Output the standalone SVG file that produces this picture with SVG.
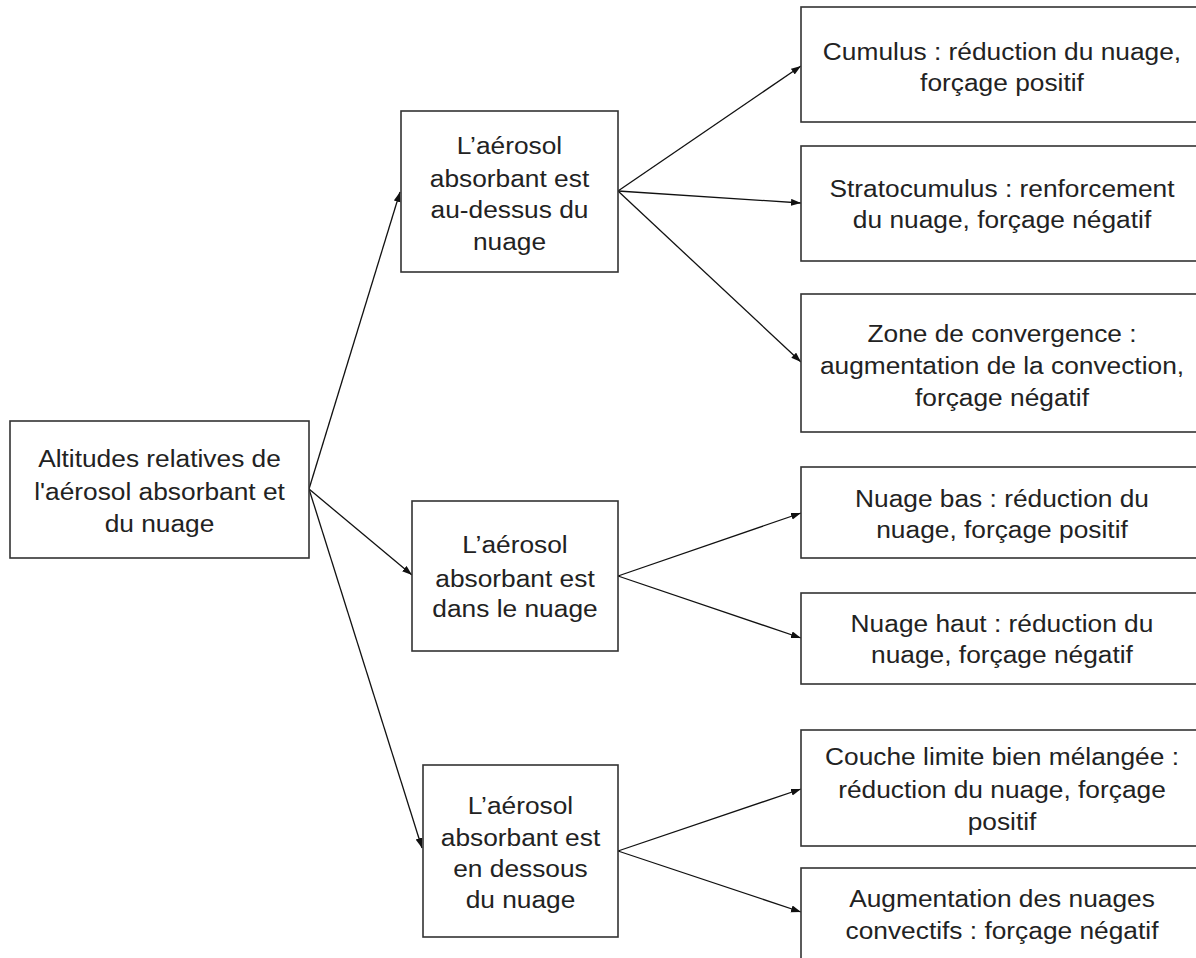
<svg xmlns="http://www.w3.org/2000/svg" width="1196" height="958" viewBox="0 0 1196 958">
<style>
.box{fill:#fff;stroke:#333;stroke-width:1.6}
.t{font-family:"Liberation Sans",Arial,sans-serif;font-size:23.5px;fill:#222;text-anchor:middle}
.c{stroke:#111;stroke-width:1.3;fill:none;marker-end:url(#ah)}
</style>
<defs>
<marker id="ah" markerUnits="userSpaceOnUse" markerWidth="11" markerHeight="8" refX="10" refY="3.5" orient="auto">
<path d="M0,0 L10,3.5 L0,7 z" fill="#111"/>
</marker>
</defs>
<rect width="1196" height="958" fill="#fff"/>
<g id="connectors">
<line class="c" x1="309" y1="489" x2="400" y2="192"/>
<line class="c" x1="309" y1="489" x2="412" y2="575"/>
<line class="c" x1="309" y1="489" x2="422" y2="848"/>
<line class="c" x1="618" y1="191" x2="801" y2="66"/>
<line class="c" x1="618" y1="191" x2="801" y2="203"/>
<line class="c" x1="618" y1="191" x2="801" y2="362"/>
<line class="c" x1="618" y1="576" x2="801" y2="513"/>
<line class="c" x1="618" y1="576" x2="801" y2="638"/>
<line class="c" x1="618" y1="851" x2="801" y2="789"/>
<line class="c" x1="618" y1="851" x2="801" y2="912"/>
</g>
<g id="root">
<rect class="box" x="10" y="421" width="299" height="137"/>
<text class="t" transform="translate(159.5 0) scale(1.12 1)"><tspan x="0" y="467">Altitudes relatives de</tspan><tspan x="0" y="500">l'aérosol absorbant et</tspan><tspan x="0" y="532">du nuage</tspan></text>
</g>
<g id="mid1">
<rect class="box" x="401" y="111" width="217" height="161"/>
<text class="t" transform="translate(509.5 0) scale(1.12 1)"><tspan x="0" y="154">L’aérosol</tspan><tspan x="0" y="187">absorbant est</tspan><tspan x="0" y="218">au-dessus du</tspan><tspan x="0" y="250">nuage</tspan></text>
</g>
<g id="mid2">
<rect class="box" x="412" y="501" width="206" height="150"/>
<text class="t" transform="translate(515 0) scale(1.12 1)"><tspan x="0" y="553">L’aérosol</tspan><tspan x="0" y="587">absorbant est</tspan><tspan x="0" y="617">dans le nuage</tspan></text>
</g>
<g id="mid3">
<rect class="box" x="423" y="765" width="195" height="172"/>
<text class="t" transform="translate(520.5 0) scale(1.12 1)"><tspan x="0" y="814">L’aérosol</tspan><tspan x="0" y="846">absorbant est</tspan><tspan x="0" y="877">en dessous</tspan><tspan x="0" y="908">du nuage</tspan></text>
</g>
<g id="r1">
<rect class="box" x="801" y="7" width="402" height="115"/>
<text class="t" transform="translate(1002 0) scale(1.12 1)"><tspan x="0" y="60">Cumulus : réduction du nuage,</tspan><tspan x="0" y="91">forçage positif</tspan></text>
</g>
<g id="r2">
<rect class="box" x="801" y="146" width="402" height="115"/>
<text class="t" transform="translate(1002 0) scale(1.12 1)"><tspan x="0" y="197">Stratocumulus : renforcement</tspan><tspan x="0" y="228">du nuage, forçage négatif</tspan></text>
</g>
<g id="r3">
<rect class="box" x="801" y="294" width="402" height="138"/>
<text class="t" transform="translate(1002 0) scale(1.12 1)"><tspan x="0" y="342">Zone de convergence :</tspan><tspan x="0" y="374">augmentation de la convection,</tspan><tspan x="0" y="406">forçage négatif</tspan></text>
</g>
<g id="r4">
<rect class="box" x="801" y="467" width="402" height="91"/>
<text class="t" transform="translate(1002 0) scale(1.12 1)"><tspan x="0" y="507">Nuage bas : réduction du</tspan><tspan x="0" y="538">nuage, forçage positif</tspan></text>
</g>
<g id="r5">
<rect class="box" x="801" y="593" width="402" height="91"/>
<text class="t" transform="translate(1002 0) scale(1.12 1)"><tspan x="0" y="632">Nuage haut : réduction du</tspan><tspan x="0" y="663">nuage, forçage négatif</tspan></text>
</g>
<g id="r6">
<rect class="box" x="801" y="730" width="402" height="116"/>
<text class="t" transform="translate(1002 0) scale(1.12 1)"><tspan x="0" y="765">Couche limite bien mélangée :</tspan><tspan x="0" y="798">réduction du nuage, forçage</tspan><tspan x="0" y="830">positif</tspan></text>
</g>
<g id="r7">
<rect class="box" x="801" y="868" width="402" height="94"/>
<text class="t" transform="translate(1002 0) scale(1.12 1)"><tspan x="0" y="907">Augmentation des nuages</tspan><tspan x="0" y="939">convectifs : forçage négatif</tspan></text>
</g>
</svg>
